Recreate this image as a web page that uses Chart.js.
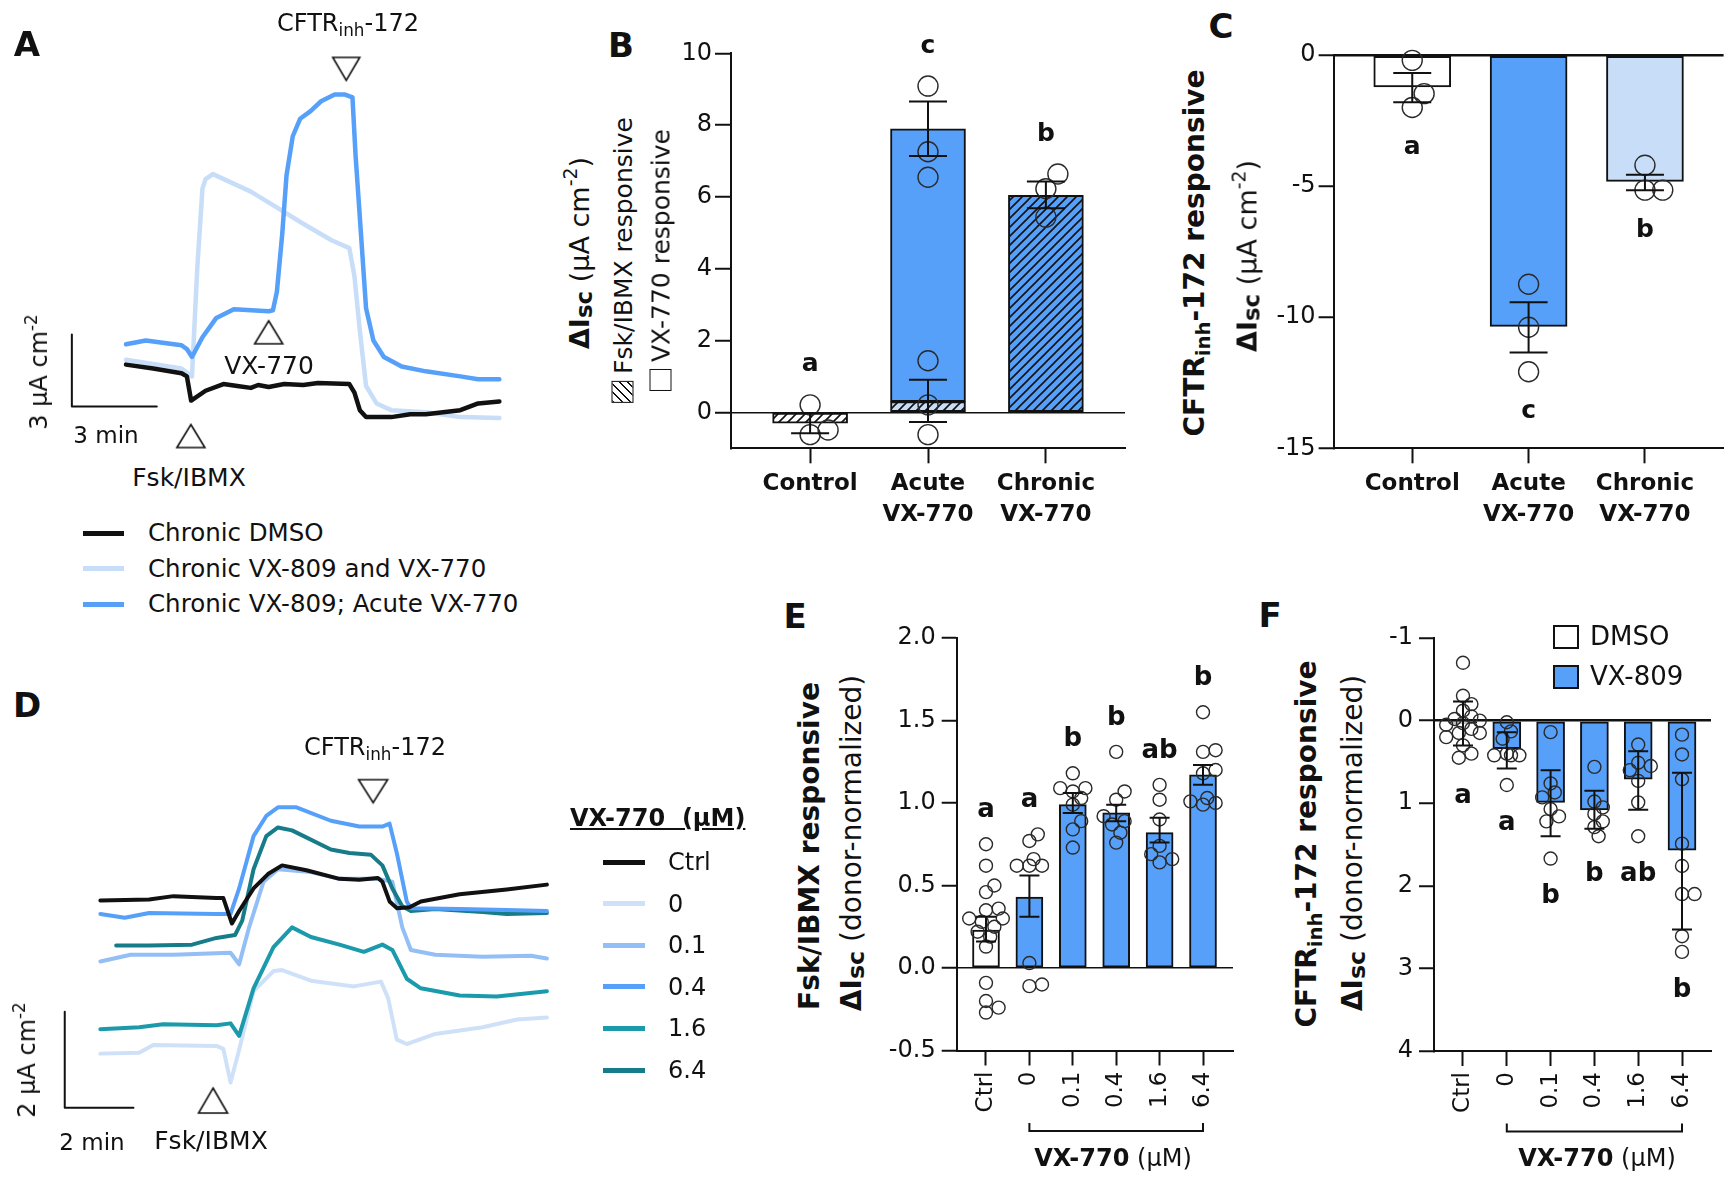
<!DOCTYPE html>
<html>
<head>
<meta charset="utf-8">
<script src="https://cdn.jsdelivr.net/npm/chart.js@4.4.1/dist/chart.umd.min.js"></script>
<style>
  body { margin: 0; width: 1735px; height: 1179px; position: relative; overflow: hidden; background: #fff;
         font-family: "DejaVu Sans", sans-serif; color: #111; }
  canvas { position: absolute; }
  .t { position: absolute; white-space: nowrap; transform: translate(-50%, -50%); line-height: 1; }
  .r { transform: translate(-50%, -50%) rotate(-90deg); }
  .l { position: absolute; white-space: nowrap; transform: translateY(-50%); line-height: 1; }
  .pl { font-weight: bold; font-size: 34px; }
  sub { font-size: .7em; vertical-align: -.3em; line-height: 0; }
  sup { font-size: .7em; vertical-align: .6em; line-height: 0; }
  .sc { font-size: .85em; position: relative; top: .12em; }
  .sq { display: inline-block; width: 20px; height: 20px; border: 1.5px solid #111; vertical-align: -2px; margin-right: 7px; }
  .hatch { background: repeating-linear-gradient(135deg, #111 0 1.6px, #fff 1.6px 6px); }
  .sw { position: absolute; }
</style>
</head>
<body>
<canvas id="cA" width="500" height="420" style="left:20px;top:40px"></canvas>
<canvas id="cB" width="490" height="520" style="left:650px;top:20px"></canvas>
<canvas id="cC" width="475" height="520" style="left:1260px;top:20px"></canvas>
<canvas id="cD" width="560" height="400" style="left:20px;top:740px"></canvas>
<canvas id="cE" width="365" height="579" style="left:880px;top:600px"></canvas>
<canvas id="cF" width="355" height="579" style="left:1372px;top:600px"></canvas>

<!-- panel A text -->
<div class="t pl" style="left:27px;top:44px">A</div>
<div class="t" style="left:348px;top:23px;font-size:24px">CFTR<sub>inh</sub>-172</div>
<div class="t" style="left:269px;top:365px;font-size:25px">VX-770</div>
<div class="t" style="left:189px;top:477px;font-size:25px">Fsk/IBMX</div>
<div class="t" style="left:106px;top:435px;font-size:23px">3 min</div>
<div class="t r" style="left:39px;top:372px;font-size:24px">3 μA cm<sup>-2</sup></div>
<div id="legA"></div>

<!-- panel B text -->
<div class="t pl" style="left:621px;top:45px">B</div>
<div class="t r" style="left:579px;top:253px;font-size:27px"><b>ΔI<span class="sc">sc</span></b> (μA cm<sup>-2</sup>)</div>
<div class="t r" style="left:623px;top:260px;font-size:25px"><span class="sq hatch"></span>Fsk/IBMX responsive</div>
<div class="t r" style="left:661px;top:260px;font-size:25px"><span class="sq"></span>VX-770 responsive</div>

<!-- panel C text -->
<div class="t pl" style="left:1221px;top:26px">C</div>
<div class="t r" style="left:1195px;top:253px;font-size:28px;font-weight:bold">CFTR<sub>inh</sub>-172 responsive</div>
<div class="t r" style="left:1247px;top:256px;font-size:27px"><b>ΔI<span class="sc">sc</span></b> (μA cm<sup>-2</sup>)</div>

<!-- panel D text -->
<div class="t pl" style="left:27px;top:705px">D</div>
<div class="t" style="left:375px;top:747px;font-size:24px">CFTR<sub>inh</sub>-172</div>
<div class="t" style="left:211px;top:1140px;font-size:25px">Fsk/IBMX</div>
<div class="t" style="left:92px;top:1142px;font-size:23px">2 min</div>
<div class="t r" style="left:27px;top:1060px;font-size:24px">2 μA cm<sup>-2</sup></div>
<div class="l" style="left:570px;top:818px;font-size:24px;font-weight:bold;text-decoration:underline">VX-770&nbsp;&nbsp;(μM)</div>
<div id="legD"></div>

<!-- panel E text -->
<div class="t pl" style="left:795px;top:616px">E</div>
<div class="t r" style="left:810px;top:846px;font-size:28px;font-weight:bold">Fsk/IBMX responsive</div>
<div class="t r" style="left:852px;top:843px;font-size:28px"><b>ΔI<span class="sc">sc</span></b> (donor-normalized)</div>
<div class="t" style="left:1113px;top:1158px;font-size:24px"><b>VX-770</b> (μM)</div>

<!-- panel F text -->
<div class="t pl" style="left:1270px;top:615px">F</div>
<div class="t r" style="left:1307px;top:844px;font-size:28px;font-weight:bold">CFTR<sub>inh</sub>-172 responsive</div>
<div class="t r" style="left:1353px;top:843px;font-size:28px"><b>ΔI<span class="sc">sc</span></b> (donor-normalized)</div>
<div class="t" style="left:1597px;top:1158px;font-size:24px"><b>VX-770</b> (μM)</div>
<div id="legF"></div>

<script>
// ---------- data ----------
// A: short-circuit current traces, [time (min), Isc (µA cm-2)]
const aNames = ['Chronic DMSO', 'Chronic VX-809 and VX-770', 'Chronic VX-809; Acute VX-770'];
const aDmso = [[0,2.31],[0.96,2.15],[1.96,1.95],[2.15,1.82],[2.30,0.81],[2.81,1.22],[3.44,1.50],[3.93,1.42],[4.41,1.34],
  [4.67,1.46],[5.04,1.38],[5.59,1.50],[6.26,1.46],[6.78,1.54],[7.89,1.50],[8.07,1.14],[8.26,0.41],[8.48,0.12],[9.37,0.12],
  [10.04,0.24],[10.59,0.24],[11.81,0.41],[12.44,0.69],[13.19,0.77]];
const aChronic = [[0,2.51],[1.96,2.15],[2.33,1.82],[2.52,6.40],[2.70,9.65],[2.81,10.05],[3.07,10.26],[4.41,9.53],[5.15,9.00],
  [6.26,8.19],[7.26,7.50],[7.89,7.17],[8.07,6.00],[8.26,3.73],[8.48,1.42],[8.85,0.69],[9.37,0.41],[10.59,0.32],[11.81,0.12],[13.19,0.08]];
const aAcute = [[0,3.16],[0.70,3.32],[1.96,3.12],[2.15,2.96],[2.33,2.63],[2.70,3.45],[3.19,4.26],[3.81,4.62],[5.04,4.54],
  [5.19,4.58],[5.33,5.35],[5.52,7.78],[5.67,10.21],[5.89,11.84],[6.15,12.57],[6.52,12.89],[6.89,13.30],[7.37,13.58],[7.74,13.58],
  [8.00,13.46],[8.11,11.03],[8.30,7.78],[8.48,4.66],[8.74,3.32],[9.11,2.63],[9.74,2.23],[10.59,2.03],[11.81,1.82],[12.44,1.70],[13.19,1.70]];
const aAdds = { fsk: 2.29, vx: 5.04, inh: 7.78 };   // addition times (min)

// B: ΔIsc, stacked Fsk/IBMX (hatched) + VX-770 (solid)
const bcCats = ['Control', ['Acute', 'VX-770'], ['Chronic', 'VX-770']];
const bFsk = [-0.30, 0.30, 6.05];
const bVx = [null, 7.60, null];
const bFskPts = [[0.21, -0.62, -0.49], [1.44, 0.21, -0.62], [6.64, 6.23, 5.44]];
const bVxPts = [[], [9.09, 7.26, 6.55], []];
const bFskErr = [[-0.58, -0.02], [-0.27, 0.91], [5.69, 6.43]];
const bVxErr = [null, [7.14, 8.66], null];
const bLetters = ['a', 'c', 'b'];

// C: CFTRinh-172 responsive ΔIsc
const cMeans = [-1.21, -10.35, -4.82];
const cPts = [[-0.20, -1.47, -2.00], [-8.74, -10.38, -12.08], [-4.20, -5.15, -5.15]];
const cErr = [[-1.80, -0.68], [-11.35, -9.43], [-5.16, -4.56]];
const cLetters = ['a', 'c', 'b'];

// D: traces by VX-770 dose
const dDoses = ['Ctrl', '0', '0.1', '0.4', '1.6', '6.4'];
const dCtrl = [[0,4.46],[1.42,4.48],[2.13,4.55],[3.38,4.51],[3.58,4.51],[3.83,3.98],[4.04,4.24],[4.46,4.71],[4.88,5.01],[5.29,5.19],
  [6.00,5.09],[6.96,4.91],[7.54,4.89],[8.08,4.93],[8.21,4.85],[8.42,4.44],[8.63,4.30],[9.00,4.32],[9.33,4.44],[10.46,4.59],[11.83,4.69],[13.00,4.79]];
const d0 = [[0,1.27],[1.13,1.29],[1.54,1.45],[3.38,1.43],[3.58,1.37],[3.79,0.67],[4.04,1.35],[4.46,2.57],[5.04,2.99],[5.29,3.01],
  [6.13,2.79],[7.38,2.67],[8.17,2.77],[8.38,2.42],[8.63,1.56],[8.92,1.47],[9.75,1.68],[11.13,1.82],[12.13,1.98],[13.00,2.02]];
const d01 = [[0,3.19],[0.88,3.33],[2.13,3.33],[3.79,3.37],[4.04,3.13],[4.33,3.90],[4.75,4.85],[5.17,5.11],[6.13,5.05],[6.96,4.91],
  [8.08,4.91],[8.50,4.85],[8.79,3.90],[9.04,3.43],[9.75,3.33],[11.13,3.29],[12.54,3.31],[13.00,3.25]];
const d04 = [[0,4.18],[0.71,4.10],[1.42,4.20],[3.38,4.18],[3.79,4.18],[4.04,4.71],[4.46,5.80],[4.83,6.22],[5.17,6.40],[5.71,6.40],
  [6.71,6.12],[7.54,6.00],[8.21,6.00],[8.42,6.06],[8.63,5.45],[8.92,4.44],[9.04,4.30],[10.46,4.28],[11.83,4.26],[13.00,4.24]];
const d16 = [[0,1.78],[1.13,1.82],[1.83,1.88],[3.38,1.86],[3.79,1.90],[4.04,1.64],[4.46,2.63],[5.04,3.49],[5.58,3.90],[6.13,3.70],
  [6.96,3.54],[7.67,3.39],[8.21,3.54],[8.50,3.43],[8.92,2.83],[9.33,2.63],[10.46,2.48],[11.54,2.46],[13.00,2.57]];
const d64 = [[0.46,3.52],[1.42,3.52],[2.67,3.54],[3.38,3.68],[3.92,3.74],[4.13,4.04],[4.46,5.11],[4.83,5.80],[5.17,5.98],[5.58,5.92],
  [6.71,5.52],[7.25,5.45],[7.88,5.41],[8.21,5.19],[8.50,4.71],[8.79,4.34],[9.04,4.24],[9.75,4.28],[11.13,4.22],[11.83,4.18],[13.00,4.20]];
const dAdds = { fsk: 3.28, inh: 7.94 };

// E, F: donor-normalized responses
const efCats = ['Ctrl', '0', '0.1', '0.4', '1.6', '6.4'];
const efGroups = ['DMSO', 'VX-809'];
const eMeans = [0.23, 0.43, 0.99, 0.94, 0.82, 1.17];
const eErr = [[0.16, 0.31], [0.31, 0.56], [0.94, 1.06], [0.89, 0.99], [0.76, 0.91], [1.11, 1.23]];
const ePts = [
  [0.75, 0.62, 0.50, 0.46, 0.36, 0.35, 0.30, 0.30, 0.28, 0.25, 0.22, 0.19, 0.13, -0.09, -0.20, -0.24, -0.27],
  [0.81, 0.77, 0.66, 0.62, 0.62, 0.62, 0.03, -0.10, -0.11],
  [1.18, 1.09, 1.09, 1.07, 1.03, 0.99, 0.89, 0.84, 0.73],
  [1.31, 1.07, 1.02, 0.92, 0.89, 0.87, 0.82, 0.76],
  [1.11, 1.02, 0.90, 0.74, 0.69, 0.66, 0.64],
  [1.55, 1.32, 1.31, 1.20, 1.18, 1.03, 1.01, 1.00, 0.99]];
const eLetters = ['a', 'a', 'b', 'b', 'ab', 'b'];
const fMeans = [0.03, 0.34, 0.99, 1.08, 0.71, 1.57];
const fErr = [[-0.23, 0.30], [0.14, 0.58], [0.60, 1.40], [0.85, 1.31], [0.37, 1.08], [0.63, 2.53]];
const fPts = [
  [-0.70, -0.30, -0.20, -0.12, -0.05, -0.02, 0.00, 0.03, 0.05, 0.10, 0.15, 0.15, 0.20, 0.30, 0.40, 0.45],
  [0.02, 0.13, 0.22, 0.40, 0.42, 0.42, 0.42, 0.78],
  [0.14, 0.76, 0.87, 0.93, 1.07, 1.16, 1.22, 1.67],
  [0.56, 0.98, 1.05, 1.13, 1.22, 1.29, 1.40],
  [0.29, 0.51, 0.55, 0.60, 0.73, 0.99, 1.40],
  [0.17, 0.41, 0.71, 1.49, 1.76, 2.10, 2.10, 2.61, 2.80]];
const fLetters = ['a', 'a', 'b', 'b', 'ab', 'b'];

// ---------- styles ----------
const INK = '#111', BLUE = '#56a0fa', LIGHT = '#c8ddf8';
const aColors = [INK, LIGHT, BLUE];
const dColors = [INK, '#cfe1f9', '#93bff6', BLUE, '#1b9aab', '#177c8a'];
Chart.defaults.font.family = '"DejaVu Sans", sans-serif';
Chart.defaults.color = INK;
Chart.defaults.animation = false;
Chart.defaults.plugins.legend.display = false;
Chart.defaults.plugins.tooltip.enabled = false;

function hatch(bg) {
  const c = document.createElement('canvas'); c.width = c.height = 9;
  const g = c.getContext('2d');
  g.fillStyle = bg; g.fillRect(0, 0, 9, 9);
  g.strokeStyle = INK; g.lineWidth = 1.6;
  g.beginPath();
  g.moveTo(-2, 11); g.lineTo(11, -2);
  g.moveTo(-2, 2); g.lineTo(2, -2);
  g.moveTo(7, 11); g.lineTo(11, 7);
  g.stroke();
  return g.createPattern(c, 'repeat');
}
function tri(w, h, down) {
  const c = document.createElement('canvas'); c.width = w + 4; c.height = h + 4;
  const g = c.getContext('2d'); g.translate(2, 2);
  g.beginPath();
  if (down) { g.moveTo(0, 0); g.lineTo(w, 0); g.lineTo(w / 2, h); }
  else { g.moveTo(w / 2, 0); g.lineTo(w, h); g.lineTo(0, h); }
  g.closePath(); g.fillStyle = '#fff'; g.fill();
  g.lineWidth = 1.6; g.strokeStyle = INK; g.stroke();
  return c;
}
// spread overlapping circles sideways (px estimates -> category units)
function swarm(vals, pxU, pxCat, r, minD, maxOff) {
  const idx = vals.map((_, i) => i).sort((a, b) => vals[a] - vals[b]);
  const pos = [], off = new Array(vals.length).fill(0);
  const cands = [0];
  for (let k = 1; k * r * 0.6 <= maxOff; k++) cands.push(k * r * 0.6, -k * r * 0.6);
  idx.forEach(i => {
    const y = vals[i] * pxU;
    let best = 0, bestD = -1;
    for (const dx of cands) {
      let d = Infinity;
      pos.forEach(p => { d = Math.min(d, Math.hypot(p[0] - dx, p[1] - y)); });
      if (d >= minD) { best = dx; break; }
      if (d > bestD) { bestD = d; best = dx; }
    }
    pos.push([best, y]); off[i] = best / pxCat;
  });
  return off;
}
function ptsData(groups, pxU, pxCat, r, minD, maxOff) {
  const out = [];
  groups.forEach((vals, i) => {
    const off = swarm(vals, pxU, pxCat, r, minD, maxOff);
    vals.forEach((v, k) => out.push({ x: i + off[k], y: v }));
  });
  return out;
}
const xy = arr => arr.map(p => ({ x: p[0], y: p[1] }));

// error bars, significance letters and bracket through the chart scales
const marks = {
  id: 'marks',
  afterDatasetsDraw(chart, args, o) {
    const { ctx, scales: { x, y } } = chart;
    ctx.save();
    ctx.strokeStyle = INK; ctx.lineWidth = 2;
    (o.errors || []).forEach(e => {
      const px = x.getPixelForValue(e.x), lo = y.getPixelForValue(e.lo), hi = y.getPixelForValue(e.hi);
      ctx.beginPath();
      ctx.moveTo(px, lo); ctx.lineTo(px, hi);
      ctx.moveTo(px - o.cap / 2, lo); ctx.lineTo(px + o.cap / 2, lo);
      ctx.moveTo(px - o.cap / 2, hi); ctx.lineTo(px + o.cap / 2, hi);
      ctx.stroke();
    });
    ctx.fillStyle = INK; ctx.font = o.letterFont; ctx.textAlign = 'center'; ctx.textBaseline = 'middle';
    (o.letters || []).forEach(l => ctx.fillText(l.text, x.getPixelForValue(l.x), y.getPixelForValue(l.y) + o.letterDy));
    if (o.bracket) {
      const x0 = x.getPixelForValue(o.bracket.from), x1 = x.getPixelForValue(o.bracket.to);
      const by = chart.chartArea.bottom + o.bracket.dy;
      ctx.lineWidth = 2;
      ctx.beginPath(); ctx.moveTo(x0, by - 8); ctx.lineTo(x0, by); ctx.lineTo(x1, by); ctx.lineTo(x1, by - 8); ctx.stroke();
    }
    ctx.restore();
  }
};

function catAxis(cats, min, max, h, font, pad, rot) {
  return {
    type: 'linear', min, max, offset: false,
    afterBuildTicks: s => { s.ticks = cats.map((_, i) => ({ value: i })); },
    afterFit: s => { s.height = h; },
    ticks: { callback: v => cats[v], font, padding: pad, autoSkip: false, minRotation: rot, maxRotation: rot },
    grid: { drawOnChartArea: false, offset: false, tickLength: 15, tickWidth: 2, tickColor: INK },
    border: { color: INK, width: 2 }
  };
}
function valAxis(min, max, ticks, w, fmt, zeroW, tickLen, pad, fontSize, reverse) {
  return {
    min, max, reverse: !!reverse,
    afterBuildTicks: s => { s.ticks = ticks.map(v => ({ value: v })); },
    afterFit: s => { s.width = w; },
    ticks: { callback: fmt, font: { size: fontSize }, padding: pad },
    grid: { color: c => (c.tick && c.tick.value === 0 ? INK : 'rgba(0,0,0,0)'), lineWidth: zeroW,
            tickColor: INK, tickLength: tickLen, tickWidth: 2 },
    border: { color: INK, width: 2 }
  };
}
const lineDs = (data, color, w) => ({ type: 'line', data: xy(data), borderColor: color, borderWidth: w, pointRadius: 0,
  tension: 0, fill: false, borderJoinStyle: 'round', borderCapStyle: 'round', clip: false });
const ptDs = (data, r) => ({ type: 'scatter', data, order: 0, pointRadius: r, pointBorderWidth: 1.4,
  pointBorderColor: '#2a2a2a', pointBackgroundColor: 'rgba(0,0,0,0)', clip: false });

// ---------- A ----------
new Chart(document.getElementById('cA'), {
  type: 'line',
  data: { datasets: [
    lineDs(aDmso, aColors[0], 4.5), lineDs(aAcute, aColors[2], 4.5), lineDs(aChronic, aColors[1], 4.5),
    lineDs([[-1.914, 3.567], [-1.914, 0.567], [1.086, 0.567]], INK, 2),
    { type: 'scatter', data: [{ x: aAdds.fsk, y: -0.669 }, { x: aAdds.vx, y: 3.66 }], pointStyle: tri(28, 23, false), pointRadius: 5 },
    { type: 'scatter', data: [{ x: aAdds.inh, y: 14.65 }], pointStyle: tri(27, 23, true), pointRadius: 5 }
  ] },
  options: { responsive: false, layout: { padding: 0 },
    scales: { x: { type: 'linear', display: false, min: -3.534, max: 13.707 }, y: { display: false, min: -1.419, max: 15.606 } } }
});

// ---------- B ----------
const bFskBars = bFsk.map((v, i) => ({ x: i, y: v }));
const bVxBars = [];
bVx.forEach((v, i) => { if (v !== null) bVxBars.push({ x: i, y: [bFsk[i], bFsk[i] + v] }); });
const bErrs = [];
bFskErr.forEach((e, i) => bErrs.push({ x: i, lo: e[0], hi: e[1] }));
bVxErr.forEach((e, i) => { if (e) bErrs.push({ x: i, lo: e[0], hi: e[1] }); });
const bTop = bcCats.map((_, i) => Math.max(...bFskPts[i], ...bVxPts[i], bFskErr[i][1], bVxErr[i] ? bVxErr[i][1] : -99));
new Chart(document.getElementById('cB'), {
  type: 'bar',
  data: { datasets: [
    ptDs(ptsData(bFskPts.map((p, i) => p.concat(bVxPts[i])), 35.9, 118, 10, 18, 20), 10),
    { type: 'bar', data: bFskBars, order: 1, grouped: false, barThickness: 75, borderWidth: 2, borderColor: INK, borderSkipped: false,
      backgroundColor: [hatch('#ffffff'), hatch(LIGHT), hatch(BLUE)] },
    { type: 'bar', data: bVxBars, order: 1, grouped: false, barThickness: 75, borderWidth: 2, borderColor: INK, borderSkipped: false,
      backgroundColor: BLUE }
  ] },
  options: { responsive: false, layout: { padding: { top: 33.4, right: 15, left: 0, bottom: 0 } },
    scales: {
      x: catAxis(bcCats, -0.671, 2.671, 91.7, { size: 23, weight: 'bold', lineHeight: 1.35 }, 5, 0),
      y: valAxis(-1, 10, [0, 2, 4, 6, 8, 10], 81, v => String(v), 1.5, 16, 3, 24)
    },
    plugins: { marks: { errors: bErrs, cap: 38, letterFont: 'bold 25px "DejaVu Sans"', letterDy: -40,
      letters: bLetters.map((t, i) => ({ x: i, y: bTop[i], text: t })) } } },
  plugins: [marks]
});

// ---------- C ----------
const cBot = bcCats.map((_, i) => Math.min(...cPts[i], cErr[i][0]));
new Chart(document.getElementById('cC'), {
  type: 'bar',
  data: { datasets: [
    ptDs(ptsData(cPts, 26.2, 117.5, 10, 18, 20), 10),
    { type: 'bar', data: cMeans.map((v, i) => ({ x: i, y: v })), order: 1, grouped: false, barThickness: 77, borderWidth: 2,
      borderColor: INK, borderSkipped: false, backgroundColor: ['#ffffff', BLUE, LIGHT] }
  ] },
  options: { responsive: false, layout: { padding: { top: 35.1, right: 7.4, left: 0, bottom: 0 } },
    scales: {
      x: catAxis(bcCats, -0.676, 2.676, 91.7, { size: 23, weight: 'bold', lineHeight: 1.35 }, 5, 0),
      y: valAxis(-15, 0, [0, -5, -10, -15], 73.6, v => String(v), 2.5, 15, 3, 24)
    },
    plugins: { marks: { errors: cErr.map((e, i) => ({ x: i, lo: e[0], hi: e[1] })), cap: 38,
      letterFont: 'bold 25px "DejaVu Sans"', letterDy: 40,
      letters: cLetters.map((t, i) => ({ x: i, y: cBot[i], text: t })) } } },
  plugins: [marks]
});

// ---------- D ----------
const dSeries = [dCtrl, d0, d01, d04, d16, d64];
const dDraw = [0, 3, 5, 2, 4, 1];   // top-most first
new Chart(document.getElementById('cD'), {
  type: 'line',
  data: { datasets: dDraw.map(i => lineDs(dSeries[i], dColors[i], 4)).concat([
    lineDs([[-1.037, 2.141], [-1.037, 0.141], [0.963, 0.141]], INK, 2),
    { type: 'scatter', data: [{ x: dAdds.fsk, y: 0.293 }], pointStyle: tri(29, 25, false), pointRadius: 5 },
    { type: 'scatter', data: [{ x: dAdds.inh, y: 6.737 }], pointStyle: tri(29, 23, true), pointRadius: 5 }
  ]) },
  options: { responsive: false, layout: { padding: 0 },
    scales: { x: { type: 'linear', display: false, min: -2.165, max: 13.789 }, y: { display: false, min: -0.404, max: 7.677 } } }
});

// ---------- E, F ----------
function efChart(id, means, err, pts, letters, o) {
  const ext = means.map((_, i) => Math.max(...pts[i], err[i][1]));
  new Chart(document.getElementById(id), {
    type: 'bar',
    data: { datasets: [
      ptDs(ptsData(pts, o.pxU, o.pxCat, 7, 10, 17), 6.5),
      { type: 'bar', data: means.map((v, i) => ({ x: i, y: v })), order: 1, grouped: false, barThickness: o.barW,
        borderWidth: 2, borderColor: INK, borderSkipped: false,
        backgroundColor: means.map((_, i) => (i === 0 ? '#ffffff' : BLUE)) }
    ] },
    options: { responsive: false, layout: { padding: { top: 38, right: o.right, left: 0, bottom: 0 } },
      scales: {
        x: catAxis(efCats, o.xmin, o.xmax, o.xh, { size: 23 }, 6, 90),
        y: valAxis(o.ymin, o.ymax, o.ticks, o.yw, o.fmt, o.zeroW, 15, 6, 24, o.reverse)
      },
      plugins: { marks: { errors: err.map((e, i) => ({ x: i, lo: e[0], hi: e[1] })), cap: 20,
        letterFont: 'bold 26px "DejaVu Sans"', letterDy: o.letterDy,
        letters: letters.map((t, i) => ({ x: i, y: ext[i], text: t })),
        bracket: { from: 1, to: 5, dy: 80.5 } } } },
    plugins: [marks]
  });
}
efChart('cE', eMeans, eErr, ePts, eLetters, { pxU: 165, pxCat: 43.4, barW: 27, right: 12, xmin: -0.675, xmax: 5.691,
  xh: 128.5, ymin: -0.5, ymax: 2, ticks: [-0.5, 0, 0.5, 1, 1.5, 2], yw: 76.7, fmt: v => v.toFixed(1), zeroW: 1.5, letterDy: -34 });
efChart('cF', fMeans, fErr, fPts, fLetters, { pxU: 82.6, pxCat: 43.8, barW: 28, right: 16, xmin: -0.662, xmax: 5.662,
  xh: 128, ymin: -1, ymax: 4, ticks: [-1, 0, 1, 2, 3, 4], yw: 62, fmt: v => String(v), zeroW: 2.5, letterDy: 38, reverse: true });

// ---------- HTML legends ----------
function legendLine(parent, x, y, len, color, label, textX, size) {
  const s = document.createElement('div'); s.className = 'sw';
  s.style.cssText = `left:${x}px;top:${y - 2.5}px;width:${len}px;height:5px;background:${color}`;
  const t = document.createElement('div'); t.className = 'l';
  t.style.cssText = `left:${textX}px;top:${y}px;font-size:${size}px`;
  t.textContent = label;
  parent.appendChild(s); parent.appendChild(t);
}
const legA = document.getElementById('legA');
aNames.forEach((n, i) => legendLine(legA, 83, 533 + i * 35.5, 41, aColors[i], n, 148, 24.5));
const legD = document.getElementById('legD');
dDoses.forEach((n, i) => legendLine(legD, 603, 862 + i * 41.6, 42, dColors[i], n, 668, 24));
const legF = document.getElementById('legF');
efGroups.forEach((n, i) => {
  const s = document.createElement('div'); s.className = 'sw';
  s.style.cssText = `left:1553px;top:${625 + i * 39.6}px;width:22px;height:20px;border:2px solid ${INK};background:${i ? BLUE : '#fff'}`;
  const t = document.createElement('div'); t.className = 'l';
  t.style.cssText = `left:1590px;top:${636 + i * 40}px;font-size:26px`;
  t.textContent = n;
  legF.appendChild(s); legF.appendChild(t);
});
</script>
</body>
</html>
